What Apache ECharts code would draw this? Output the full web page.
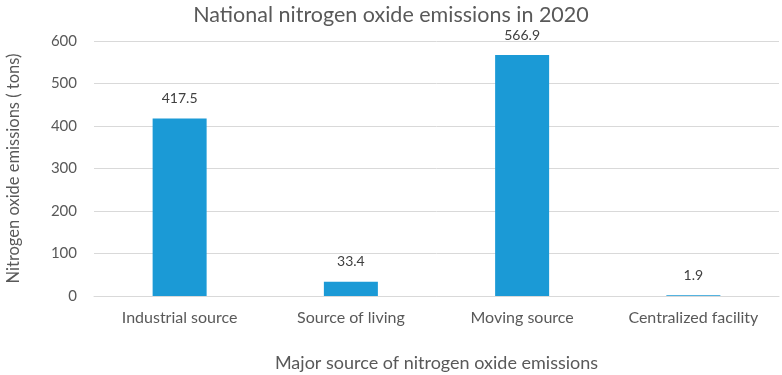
<!DOCTYPE html>
<html>
<head>
<meta charset="utf-8">
<script src="https://cdn.jsdelivr.net/npm/echarts@6/dist/echarts.min.js"></script>
<style>
  html, body { margin: 0; padding: 0; background: #fff; }
  #chart { width: 782px; height: 375px; }
</style>
</head>
<body>
<div id="chart"></div>
<script>
// categories and values
const categories = ['Industrial source', 'Source of living', 'Moving source', 'Centralized facility']
const emissions = [417.5, 33.4, 566.9, 1.9]
const yTicks = [0, 100, 200, 300, 400, 500, 600]

const font = 'Lato, "Open Sans", sans-serif'
const chart = echarts.init(document.getElementById('chart'))

chart.setOption({
  animation: false,
  title: {
    text: 'National nitrogen oxide emissions in 2020',
    left: 'center',
    top: -1,
    textStyle: { fontFamily: font, fontSize: 21.5, fontWeight: 'normal', color: '#595959' }
  },
  grid: { left: 94, right: 3, top: 41, bottom: 79, outerBoundsMode: 'none', containLabel: false },
  xAxis: {
    type: 'category',
    data: categories,
    name: 'Major source of nitrogen oxide emissions',
    nameLocation: 'middle',
    nameGap: 58,
    nameTextStyle: { fontFamily: font, fontSize: 18, color: '#595959' },
    axisLine: { lineStyle: { color: '#d9d9d9' } },
    axisTick: { show: false },
    axisLabel: { fontFamily: font, fontSize: 16, color: '#595959', margin: 14 }
  },
  yAxis: {
    type: 'value',
    min: yTicks[0],
    max: yTicks[yTicks.length - 1],
    interval: 100,
    name: 'Nitrogen oxide emissions ( tons)',
    nameLocation: 'middle',
    nameGap: 72,
    nameTextStyle: { fontFamily: font, fontSize: 16.5, color: '#595959' },
    axisLine: { show: false },
    axisTick: { show: false },
    axisLabel: { fontFamily: font, fontSize: 15, color: '#595959', margin: 17 },
    splitLine: { lineStyle: { color: '#d9d9d9' } }
  },
  series: [{
    type: 'bar',
    data: emissions,
    barWidth: 54,
    itemStyle: { color: '#1b9ad6' },
    label: {
      show: true,
      position: 'top',
      distance: 13,
      fontFamily: font,
      fontSize: 14,
      color: '#404040'
    }
  }]
})
</script>
</body>
</html>
